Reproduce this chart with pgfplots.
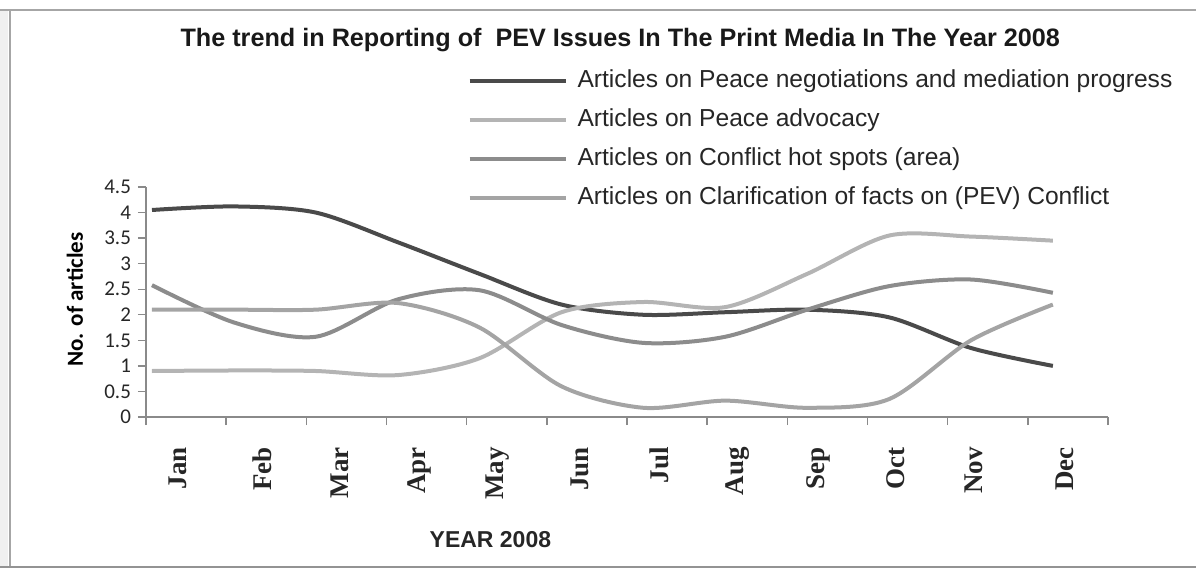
\documentclass[border=0pt]{standalone}
\usepackage{pgfplots}
\pgfplotsset{compat=1.18}
\usepackage{fontspec}
\setmainfont{Liberation Sans}
\newfontfamily\carlito{Carlito}
\newfontfamily\timesf{Liberation Serif}
\definecolor{sdark}{HTML}{4A4A4A}
\definecolor{sadv}{HTML}{B4B4B4}
\definecolor{shot}{HTML}{8C8C8C}
\definecolor{sclar}{HTML}{A4A4A4}
\definecolor{axgray}{HTML}{8A8A8A}
\begin{document}
\begin{tikzpicture}
\useasboundingbox (-73pt,-76pt) rectangle (525pt,208.5pt);
\fill[gray!12] (-73pt,203.5pt) rectangle (-69pt,-75pt);
\draw[gray!70, line width=0.8pt] (-73pt,203.5pt) -- (525pt,203.5pt);
\draw[gray!70, line width=1.2pt] (-68pt,203.5pt) -- (-68pt,-75pt);
\draw[gray!85, line width=1.2pt] (-73pt,-75pt) -- (525pt,-75pt);
\begin{axis}[
  at={(0,0)}, anchor=south west,
  scale only axis, width=481pt, height=115pt,
  xmin=-0.073, xmax=11.673, ymin=0, ymax=4.5,
  axis lines*=left,
  axis line style={draw=axgray, line width=0.7pt},
  tick style={draw=axgray, line width=0.7pt},
  tick align=outside,
  xtick={-0.073,0.906,1.885,2.863,3.842,4.821,5.800,6.779,7.758,8.737,9.716,10.694,11.673},
  xticklabels={},
  major tick length=4pt,
  extra x ticks={0.317,1.343,2.295,3.272,4.225,5.226,6.19,7.155,8.132,9.084,10.037,11.15},
  extra x tick labels={Jan,Feb,Mar,Apr,May,Jun,Jul,Aug,Sep,Oct,Nov,Dec},
  extra x tick style={major tick length=0pt, xticklabel style={rotate=90, anchor=east, xshift=-11.5pt, font=\timesf\bfseries\fontsize{13.5}{15}\selectfont, text=black!85}},
  ytick={0,0.5,1,1.5,2,2.5,3,3.5,4,4.5},
  yticklabel style={font=\carlito\fontsize{10.5}{12}\selectfont, text=black!85},
  /pgf/number format/assume math mode=true,
  ylabel={No. of articles},
  ylabel style={at={(axis description cs:-0.0738,0.51)}, anchor=center, font=\carlito\bfseries\fontsize{11.5}{13}\selectfont},
  xlabel={YEAR 2008},
  xlabel style={at={(axis description cs:0.358,-0.535)}, anchor=center, font=\bfseries\fontsize{11.5}{13}\selectfont, text=black!85},
  title={The trend in Reporting of\ \ PEV Issues In The Print Media In The Year 2008},
  title style={at={(axis description cs:0.493,1.587)}, anchor=center, yshift=0pt, font=\bfseries\fontsize{12.6}{14}\selectfont, text=black!90},
  legend style={at={(axis description cs:0.3276,1.53)}, anchor=north west, draw=none, fill=none,
    font=\fontsize{12.3}{14}\selectfont, text=black!85,
    nodes={text height=9pt, text depth=2.5pt, inner sep=0pt}, row sep=8pt, column sep=5pt},
  legend cell align=left,
  legend image code/.code={\draw[#1] (0pt,0pt) -- (48pt,0pt);},
  every axis plot/.append style={line width=2pt, smooth, tension=0.5, no markers},
  clip=false,
]
\addplot[color=sdark] coordinates {(0,4.05) (1,4.12) (2,4.0) (3,3.42) (4,2.8) (5,2.2) (6,2.0) (7,2.05) (8,2.1) (9,1.95) (10,1.35) (11,1.0)};
\addlegendentry{Articles on Peace negotiations and mediation progress}
\addplot[color=sadv] coordinates {(0,0.9) (1,0.91) (2,0.9) (3,0.82) (4,1.15) (5,2.05) (6,2.25) (7,2.15) (8,2.8) (9,3.55) (10,3.53) (11,3.45)};
\addlegendentry{Articles on Peace advocacy}
\addplot[color=shot] coordinates {(0,2.58) (1,1.85) (2,1.57) (3,2.3) (4,2.48) (5,1.8) (6,1.45) (7,1.57) (8,2.1) (9,2.56) (10,2.69) (11,2.43)};
\addlegendentry{Articles on Conflict hot spots (area)}
\addplot[color=sclar] coordinates {(0,2.1) (1,2.1) (2,2.1) (3,2.23) (4,1.75) (5,0.6) (6,0.18) (7,0.32) (8,0.18) (9,0.35) (10,1.5) (11,2.2)};
\addlegendentry{Articles on Clarification of facts on (PEV) Conflict}
\end{axis}
\end{tikzpicture}
\end{document}
